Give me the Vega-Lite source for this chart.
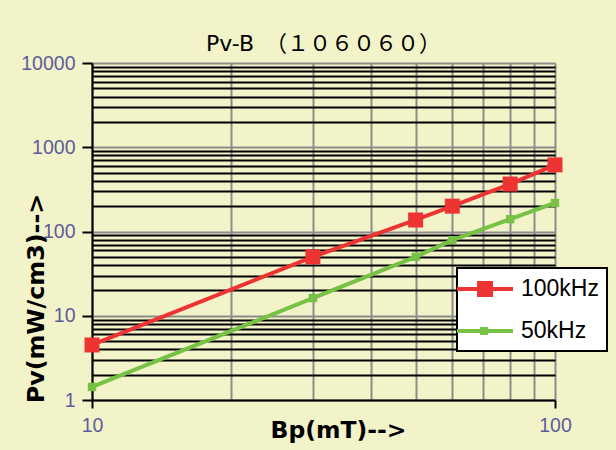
{
  "$schema": "https://vega.github.io/schema/vega-lite/v6.json",
  "width": 463,
  "height": 337,
  "autosize": "none",
  "padding": {"left": 92, "top": 63, "right": 61, "bottom": 50},
  "background": "#F3F3C9",
  "title": {
    "text": "Pv-B　（１０６０６０）",
    "font": "DejaVu Sans, Noto Sans CJK JP",
    "fontSize": 22,
    "fontWeight": "normal",
    "color": "#000000",
    "anchor": "middle",
    "baseline": "alphabetic",
    "offset": 11,
    "dy": 31
  },
  "data": {
    "values": [
      {"Bp": 10, "Pv": 4.5, "series": "100kHz"},
      {"Bp": 30, "Pv": 50, "series": "100kHz"},
      {"Bp": 50, "Pv": 137, "series": "100kHz"},
      {"Bp": 60, "Pv": 200, "series": "100kHz"},
      {"Bp": 80, "Pv": 366, "series": "100kHz"},
      {"Bp": 100, "Pv": 617, "series": "100kHz"},
      {"Bp": 10, "Pv": 1.43, "series": "50kHz"},
      {"Bp": 30, "Pv": 16.2, "series": "50kHz"},
      {"Bp": 50, "Pv": 50, "series": "50kHz"},
      {"Bp": 60, "Pv": 79, "series": "50kHz"},
      {"Bp": 80, "Pv": 140, "series": "50kHz"},
      {"Bp": 100, "Pv": 218, "series": "50kHz"}
    ]
  },
  "encoding": {
    "x": {
      "field": "Bp",
      "type": "quantitative",
      "scale": {"type": "log", "domain": [10, 100], "nice": false},
      "axis": {
        "title": "Bp(mT)-->",
        "values": [10, 20, 30, 40, 50, 60, 70, 80, 90, 100],
        "labelExpr": "datum.value == 10 || datum.value == 100 ? datum.label : ''",
        "format": "d",
        "labelFont": "Liberation Sans",
        "labelFontSize": 19.5,
        "labelColor": "#5C5C9C",
        "labelPadding": 8,
        "labelFlush": false,
        "tickColor": {"condition": {"test": "datum.value == 10 || datum.value == 100", "value": "#000000"}, "value": "transparent"},
        "tickSize": 8,
        "tickWidth": 2,
        "domainColor": "#000000",
        "domainWidth": 2,
        "grid": true,
        "gridColor": "#8C8C8C",
        "gridWidth": 2,
        "gridOpacity": 1,
        "titleFont": "DejaVu Sans",
        "titleFontSize": 23.5,
        "titleFontWeight": "bold",
        "titleColor": "#000000",
        "titleX": 246,
        "titleY": 37,
        "titleBaseline": "alphabetic",
        "titleAlign": "center"
      }
    },
    "y": {
      "field": "Pv",
      "type": "quantitative",
      "scale": {"type": "log", "domain": [1, 10000], "nice": false},
      "axis": {
        "title": "Pv(mW/cm3)-->",
        "values": [1,2,3,4,5,6,7,8,9,10,20,30,40,50,60,70,80,90,100,200,300,400,500,600,700,800,900,1000,2000,3000,4000,5000,6000,7000,8000,9000,10000],
        "labelExpr": "indexof([1,10,100,1000,10000], datum.value) >= 0 ? datum.label : ''",
        "format": "d",
        "labelFont": "Liberation Sans",
        "labelFontSize": 19.5,
        "labelColor": "#5C5C9C",
        "labelPadding": 7,
        "labelFlush": false,
        "tickColor": {"condition": {"test": "indexof([1,10,100,1000,10000], datum.value) >= 0", "value": "#000000"}, "value": "transparent"},
        "tickSize": 10,
        "tickWidth": 2,
        "domainColor": "#000000",
        "domainWidth": 2,
        "grid": true,
        "gridColor": {"condition": {"test": "indexof([1,10,100,1000,10000], datum.value) >= 0", "value": "#8C8C8C"}, "value": "#000000"},
        "gridWidth": 2,
        "gridOpacity": 1,
        "titleFont": "DejaVu Sans",
        "titleFontSize": 23.8,
        "titleFontWeight": "bold",
        "titleColor": "#000000",
        "titleAngle": -90,
        "titleX": -56,
        "titleY": 235,
        "titleBaseline": "middle",
        "titleAlign": "center"
      }
    },
    "color": {
      "field": "series",
      "type": "nominal",
      "scale": {"domain": ["100kHz", "50kHz"], "range": ["#EE3333", "#77C244"]},
      "legend": {
        "title": null,
        "orient": "none",
        "legendX": 365,
        "legendY": 205,
        "fillColor": "#FFFFFF",
        "strokeColor": "#000000",
        "padding": 8,
        "labelFont": "Liberation Sans",
        "labelFontSize": 23,
        "labelColor": "#000000",
        "labelOffset": 30,
        "symbolSize": 484,
        "symbolStrokeWidth": 4,
        "rowPadding": 15,
        "encode": {
          "legend": {"update": {"strokeWidth": {"value": 2}}},
          "symbols": {
            "update": {
              "shape": {"signal": "datum.value === '100kHz' ? 'M-1.91,0H3.18M0.095,-0.545H1.185V0.545H0.095Z' : 'M-1.91,0H3.18M0.365,-0.18H0.725V0.18H0.365Z'"},
              "size": {"value": 484},
              "fill": {"signal": "scale('color', datum.value)"},
              "stroke": {"signal": "scale('color', datum.value)"},
              "strokeWidth": {"value": 4}
            }
          }
        }
      }
    }
  },
  "layer": [
    {
      "mark": {"type": "line", "strokeWidth": 4}
    },
    {
      "transform": [{"filter": "datum.series === '100kHz'"}],
      "mark": {"type": "point", "shape": "square", "filled": true, "opacity": 1, "size": 225}
    },
    {
      "transform": [{"filter": "datum.series === '50kHz'"}],
      "mark": {"type": "point", "shape": "square", "filled": true, "opacity": 1, "size": 70}
    }
  ],
  "config": {
    "view": {"stroke": null},
    "font": "Liberation Sans"
  }
}
